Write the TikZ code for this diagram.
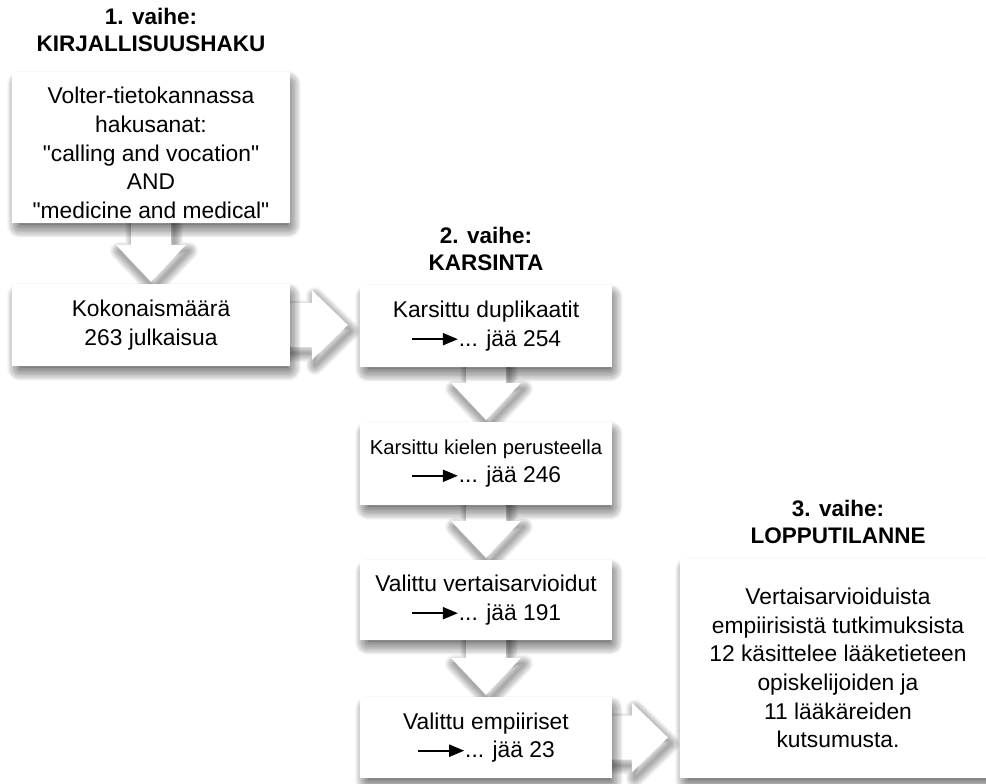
\documentclass[tikz,border=0pt]{standalone}
\usepackage{fontspec}
\setmainfont[Ligatures=TeXOff]{Liberation Sans}
\usetikzlibrary{calc,arrows.meta}
\pgfdeclarelayer{back0}
\pgfdeclarelayer{arrshadow}
\pgfdeclarelayer{arrfill}
\pgfdeclarelayer{boxshadow}
\pgfsetlayers{back0,arrshadow,arrfill,boxshadow,main}
\tikzset{
  boxst/.style={fill=white, align=center, inner sep=0pt,
    font=\fontsize{22.8}{28.6}\selectfont},
  titlest/.style={align=center, font=\bfseries\fontsize{22.5}{27}\selectfont},
  shadowring/.style={draw=black, draw opacity=0.03, line join=round},
  blockarr/.style={fill=white},
}
\newcommand\jarrow{\tikz[baseline=-7pt]\draw[line width=2pt,-{Triangle[length=15pt,width=12pt]}] (0pt,0pt) -- (46pt,0pt);}
% soft shadow of a box node
\newcommand\boxshadow[1]{%
  \begin{pgfonlayer}{boxshadow}
    \fill[black, fill opacity=0.12] ($(#1.north west)+(8,12)$) rectangle ($(#1.south east)+(-2,2)$);
    \foreach \i in {1,...,16}{
      \draw[shadowring, line width=1.6*\i pt] ($(#1.north west)+(8,12)$) rectangle ($(#1.south east)+(-2,2)$);
    }
  \end{pgfonlayer}}
% down block arrow between two nodes
\newcommand\downpath[3]{% #1,#2 nodes, #3 shift
  let \p1=(#1.south), \p2=(#2.north) in
    (\x1-20pt+#3,\y1+5pt-2*#3) -- (\x1-20pt+#3,\y2+39pt-2*#3) -- (\x1-35pt+#3,\y2+39pt-2*#3) -- (\x1+#3,\y2+2pt-2*#3)
    -- (\x1+35pt+#3,\y2+39pt-2*#3) -- (\x1+20pt+#3,\y2+39pt-2*#3) -- (\x1+20pt+#3,\y1+5pt-2*#3) -- cycle}
\newcommand\downarr[2]{%
  \begin{pgfonlayer}{arrshadow}
    \foreach \i in {1,...,12}{\draw[shadowring, line width=1.5*\i pt] \downpath{#1}{#2}{3pt};}
  \end{pgfonlayer}
  \begin{pgfonlayer}{arrfill}
    \path[blockarr] \downpath{#1}{#2}{0pt};
  \end{pgfonlayer}}
\newcommand\rightpath[3]{%
  let \p1=(#1.east), \p2=(#2.west) in
    (\x1-5pt+#3,\y1+22pt-2*#3) -- (\x2-48pt+#3,\y1+22pt-2*#3) -- (\x2-48pt+#3,\y1+35pt-2*#3) -- (\x2-12pt+#3,\y1-2*#3)
    -- (\x2-48pt+#3,\y1-35pt-2*#3) -- (\x2-48pt+#3,\y1-22pt-2*#3) -- (\x1-5pt+#3,\y1-22pt-2*#3) -- cycle}
\newcommand\rightarr[2]{%
  \begin{pgfonlayer}{arrshadow}
    \foreach \i in {1,...,12}{\draw[shadowring, line width=1.5*\i pt] \rightpath{#1}{#2}{3pt};}
  \end{pgfonlayer}
  \begin{pgfonlayer}{arrfill}
    \path[blockarr] \rightpath{#1}{#2}{0pt};
  \end{pgfonlayer}}
\begin{document}
\begin{tikzpicture}[x=1pt,y=-1pt]
\useasboundingbox (0,0) rectangle (986,784);
\begin{pgfonlayer}{back0}
  \fill[white] (0,0) rectangle (986,784);
\end{pgfonlayer}

\node[titlest] (t1) at (151,30) {1. vaihe:\\KIRJALLISUUSHAKU};
\node[titlest] (t2) at (486,249) {2. vaihe:\\KARSINTA};
\node[titlest] (t3) at (838,522) {3. vaihe:\\LOPPUTILANNE};

\node[boxst, minimum width=278pt, minimum height=151pt] (b1) at (151,147.5) {};
\node[align=center, font=\fontsize{22.8}{28.6}\selectfont] (b1t) at (151,153)
  {Volter-tietokannassa\\hakusanat:\\"calling and vocation"\\AND\\"medicine and medical"};
\node[boxst, minimum width=278pt, minimum height=82pt] (b2) at (151,325)
  {Kokonaismäärä\\263 julkaisua};
\node[boxst, minimum width=252pt, minimum height=82pt] (b3) at (486,326)
  {Karsittu duplikaatit\\\jarrow... jää 254};
\node[boxst, minimum width=252pt, minimum height=83pt] (b4) at (486,463.5)
  {{\fontsize{20.3}{28.6}\selectfont Karsittu kielen perusteella}\\\jarrow... jää 246};
\node[boxst, minimum width=252pt, minimum height=80pt] (b5) at (486,600)
  {Valittu vertaisarvioidut\\\jarrow... jää 191};
\node[boxst, minimum width=252pt, minimum height=81pt] (b6) at (486,737.5)
  {Valittu empiiriset\\\jarrow... jää 23};
\node[boxst, minimum width=316pt, minimum height=220pt] (b7) at (838,668)
  {Vertaisarvioiduista\\empiirisistä tutkimuksista\\12 käsittelee lääketieteen\\opiskelijoiden ja\\11 lääkäreiden\\kutsumusta.};

\boxshadow{b1}
\boxshadow{b2}
\boxshadow{b3}
\boxshadow{b4}
\boxshadow{b5}
\boxshadow{b6}
\boxshadow{b7}

\downarr{b1}{b2}
\rightarr{b2}{b3}
\downarr{b3}{b4}
\downarr{b4}{b5}
\downarr{b5}{b6}
\rightarr{b6}{b7}
\end{tikzpicture}
\end{document}
